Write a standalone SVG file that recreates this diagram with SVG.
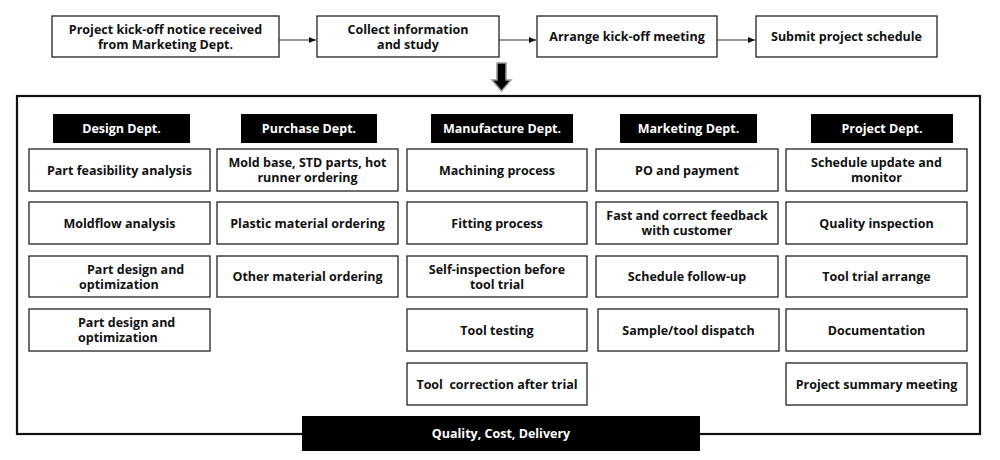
<svg xmlns="http://www.w3.org/2000/svg" width="1000" height="460" viewBox="0 0 1000 460">
<defs>
<style>
.box{fill:#fff;stroke:#222;stroke-width:1.3}
.hdr{fill:#000}
.t{font-family:"Open Sans","Noto Sans",sans-serif;font-weight:bold;font-size:12.5px;fill:#111;text-anchor:middle;dominant-baseline:central}
.w{fill:#fff}
.s{text-anchor:start}
.conn{stroke:#333;stroke-width:1.2;fill:none}
</style>
<marker id="ah" markerWidth="8" markerHeight="8" refX="7" refY="4" orient="auto" markerUnits="userSpaceOnUse">
<path d="M0,1 L7,4 L0,7 Z" fill="#111"/>
</marker>
</defs>
<rect width="1000" height="460" fill="#fff"/>

<g id="connectors">
<line class="conn" x1="279" y1="40" x2="316" y2="40" marker-end="url(#ah)"/>
<line class="conn" x1="499" y1="40" x2="536" y2="40" marker-end="url(#ah)"/>
<line class="conn" x1="717" y1="40" x2="755" y2="40" marker-end="url(#ah)"/>
<path d="M497,63 H506 V80 H511 L501.5,91 L492,80 H497 Z" fill="#000" stroke="#999" stroke-width="1.5"/>
</g>

<g id="top1"><rect class="box" x="52" y="16" width="227" height="41"/><text class="t" x="165.5" y="29">Project kick-off notice received</text><text class="t" x="165.5" y="44">from Marketing Dept.</text></g>
<g id="top2"><rect class="box" x="317" y="16" width="182" height="41"/><text class="t" x="408" y="29">Collect information</text><text class="t" x="408" y="44">and study</text></g>
<g id="top3"><rect class="box" x="537" y="16" width="180" height="41"/><text class="t" x="627" y="36.5">Arrange kick-off meeting</text></g>
<g id="top4"><rect class="box" x="756" y="16" width="181" height="41"/><text class="t" x="846.5" y="36.5">Submit project schedule</text></g>

<g id="frame"><rect x="17" y="96" width="963" height="338" fill="none" stroke="#111" stroke-width="2.2"/></g>

<g id="h-design"><rect class="hdr" x="53" y="114" width="137" height="29"/><text class="t w" x="121.5" y="128.5">Design Dept.</text></g>
<g id="h-purchase"><rect class="hdr" x="241" y="114" width="136" height="29"/><text class="t w" x="309" y="128.5">Purchase Dept.</text></g>
<g id="h-manufacture"><rect class="hdr" x="431" y="114" width="142" height="29"/><text class="t w" x="502" y="128.5">Manufacture Dept.</text></g>
<g id="h-marketing"><rect class="hdr" x="620" y="114" width="137" height="29"/><text class="t w" x="688.5" y="128.5">Marketing Dept.</text></g>
<g id="h-project"><rect class="hdr" x="811" y="114" width="142" height="29"/><text class="t w" x="882" y="128.5">Project Dept.</text></g>

<g id="d1"><rect class="box" x="29" y="149" width="181" height="42"/><text class="t" x="119.5" y="170">Part feasibility analysis</text></g>
<g id="d2"><rect class="box" x="29" y="202" width="181" height="42"/><text class="t" x="119.5" y="223">Moldflow analysis</text></g>
<g id="d3"><rect class="box" x="29" y="256" width="181" height="41"/><text class="t s" x="87" y="269">Part design and</text><text class="t s" x="79" y="284">optimization</text></g>
<g id="d4"><rect class="box" x="29" y="309" width="181" height="42"/><text class="t s" x="78" y="322">Part design and</text><text class="t s" x="78" y="337">optimization</text></g>

<g id="p1"><rect class="box" x="217" y="149" width="181" height="42"/><text class="t" x="307.5" y="162">Mold base, STD parts, hot</text><text class="t" x="307.5" y="177">runner ordering</text></g>
<g id="p2"><rect class="box" x="217" y="202" width="181" height="42"/><text class="t" x="307.5" y="223">Plastic material ordering</text></g>
<g id="p3"><rect class="box" x="217" y="256" width="181" height="41"/><text class="t" x="307.5" y="276.5">Other material ordering</text></g>

<g id="m1"><rect class="box" x="407" y="149" width="180" height="42"/><text class="t" x="497" y="170">Machining process</text></g>
<g id="m2"><rect class="box" x="407" y="202" width="180" height="42"/><text class="t" x="497" y="223">Fitting process</text></g>
<g id="m3"><rect class="box" x="407" y="256" width="180" height="41"/><text class="t" x="497" y="269">Self-inspection before</text><text class="t" x="497" y="284">tool trial</text></g>
<g id="m4"><rect class="box" x="407" y="309" width="180" height="42"/><text class="t" x="497" y="330">Tool testing</text></g>
<g id="m5"><rect class="box" x="407" y="363" width="180" height="42"/><text class="t" x="497" y="384" xml:space="preserve">Tool  correction after trial</text></g>

<g id="k1"><rect class="box" x="596" y="149" width="182" height="42"/><text class="t" x="687" y="170">PO and payment</text></g>
<g id="k2"><rect class="box" x="596" y="202" width="182" height="42"/><text class="t" x="687" y="215.5">Fast and correct feedback</text><text class="t" x="687" y="230.5">with customer</text></g>
<g id="k3"><rect class="box" x="596" y="256" width="182" height="41"/><text class="t" x="687" y="276.5">Schedule follow-up</text></g>
<g id="k4"><rect class="box" x="598" y="309" width="181" height="42"/><text class="t" x="688.5" y="330">Sample/tool dispatch</text></g>

<g id="j1"><rect class="box" x="786" y="149" width="181" height="42"/><text class="t" x="876.5" y="162">Schedule update and</text><text class="t" x="876.5" y="177">monitor</text></g>
<g id="j2"><rect class="box" x="786" y="202" width="181" height="42"/><text class="t" x="876.5" y="223">Quality inspection</text></g>
<g id="j3"><rect class="box" x="786" y="256" width="181" height="41"/><text class="t" x="876.5" y="276.5">Tool trial arrange</text></g>
<g id="j4"><rect class="box" x="786" y="309" width="181" height="42"/><text class="t" x="876.5" y="330">Documentation</text></g>
<g id="j5"><rect class="box" x="786" y="363" width="181" height="42"/><text class="t" x="876.5" y="384">Project summary meeting</text></g>

<g id="qcd"><rect class="hdr" x="302" y="416" width="398" height="35"/><text class="t w" x="501" y="433.5">Quality, Cost, Delivery</text></g>
</svg>
